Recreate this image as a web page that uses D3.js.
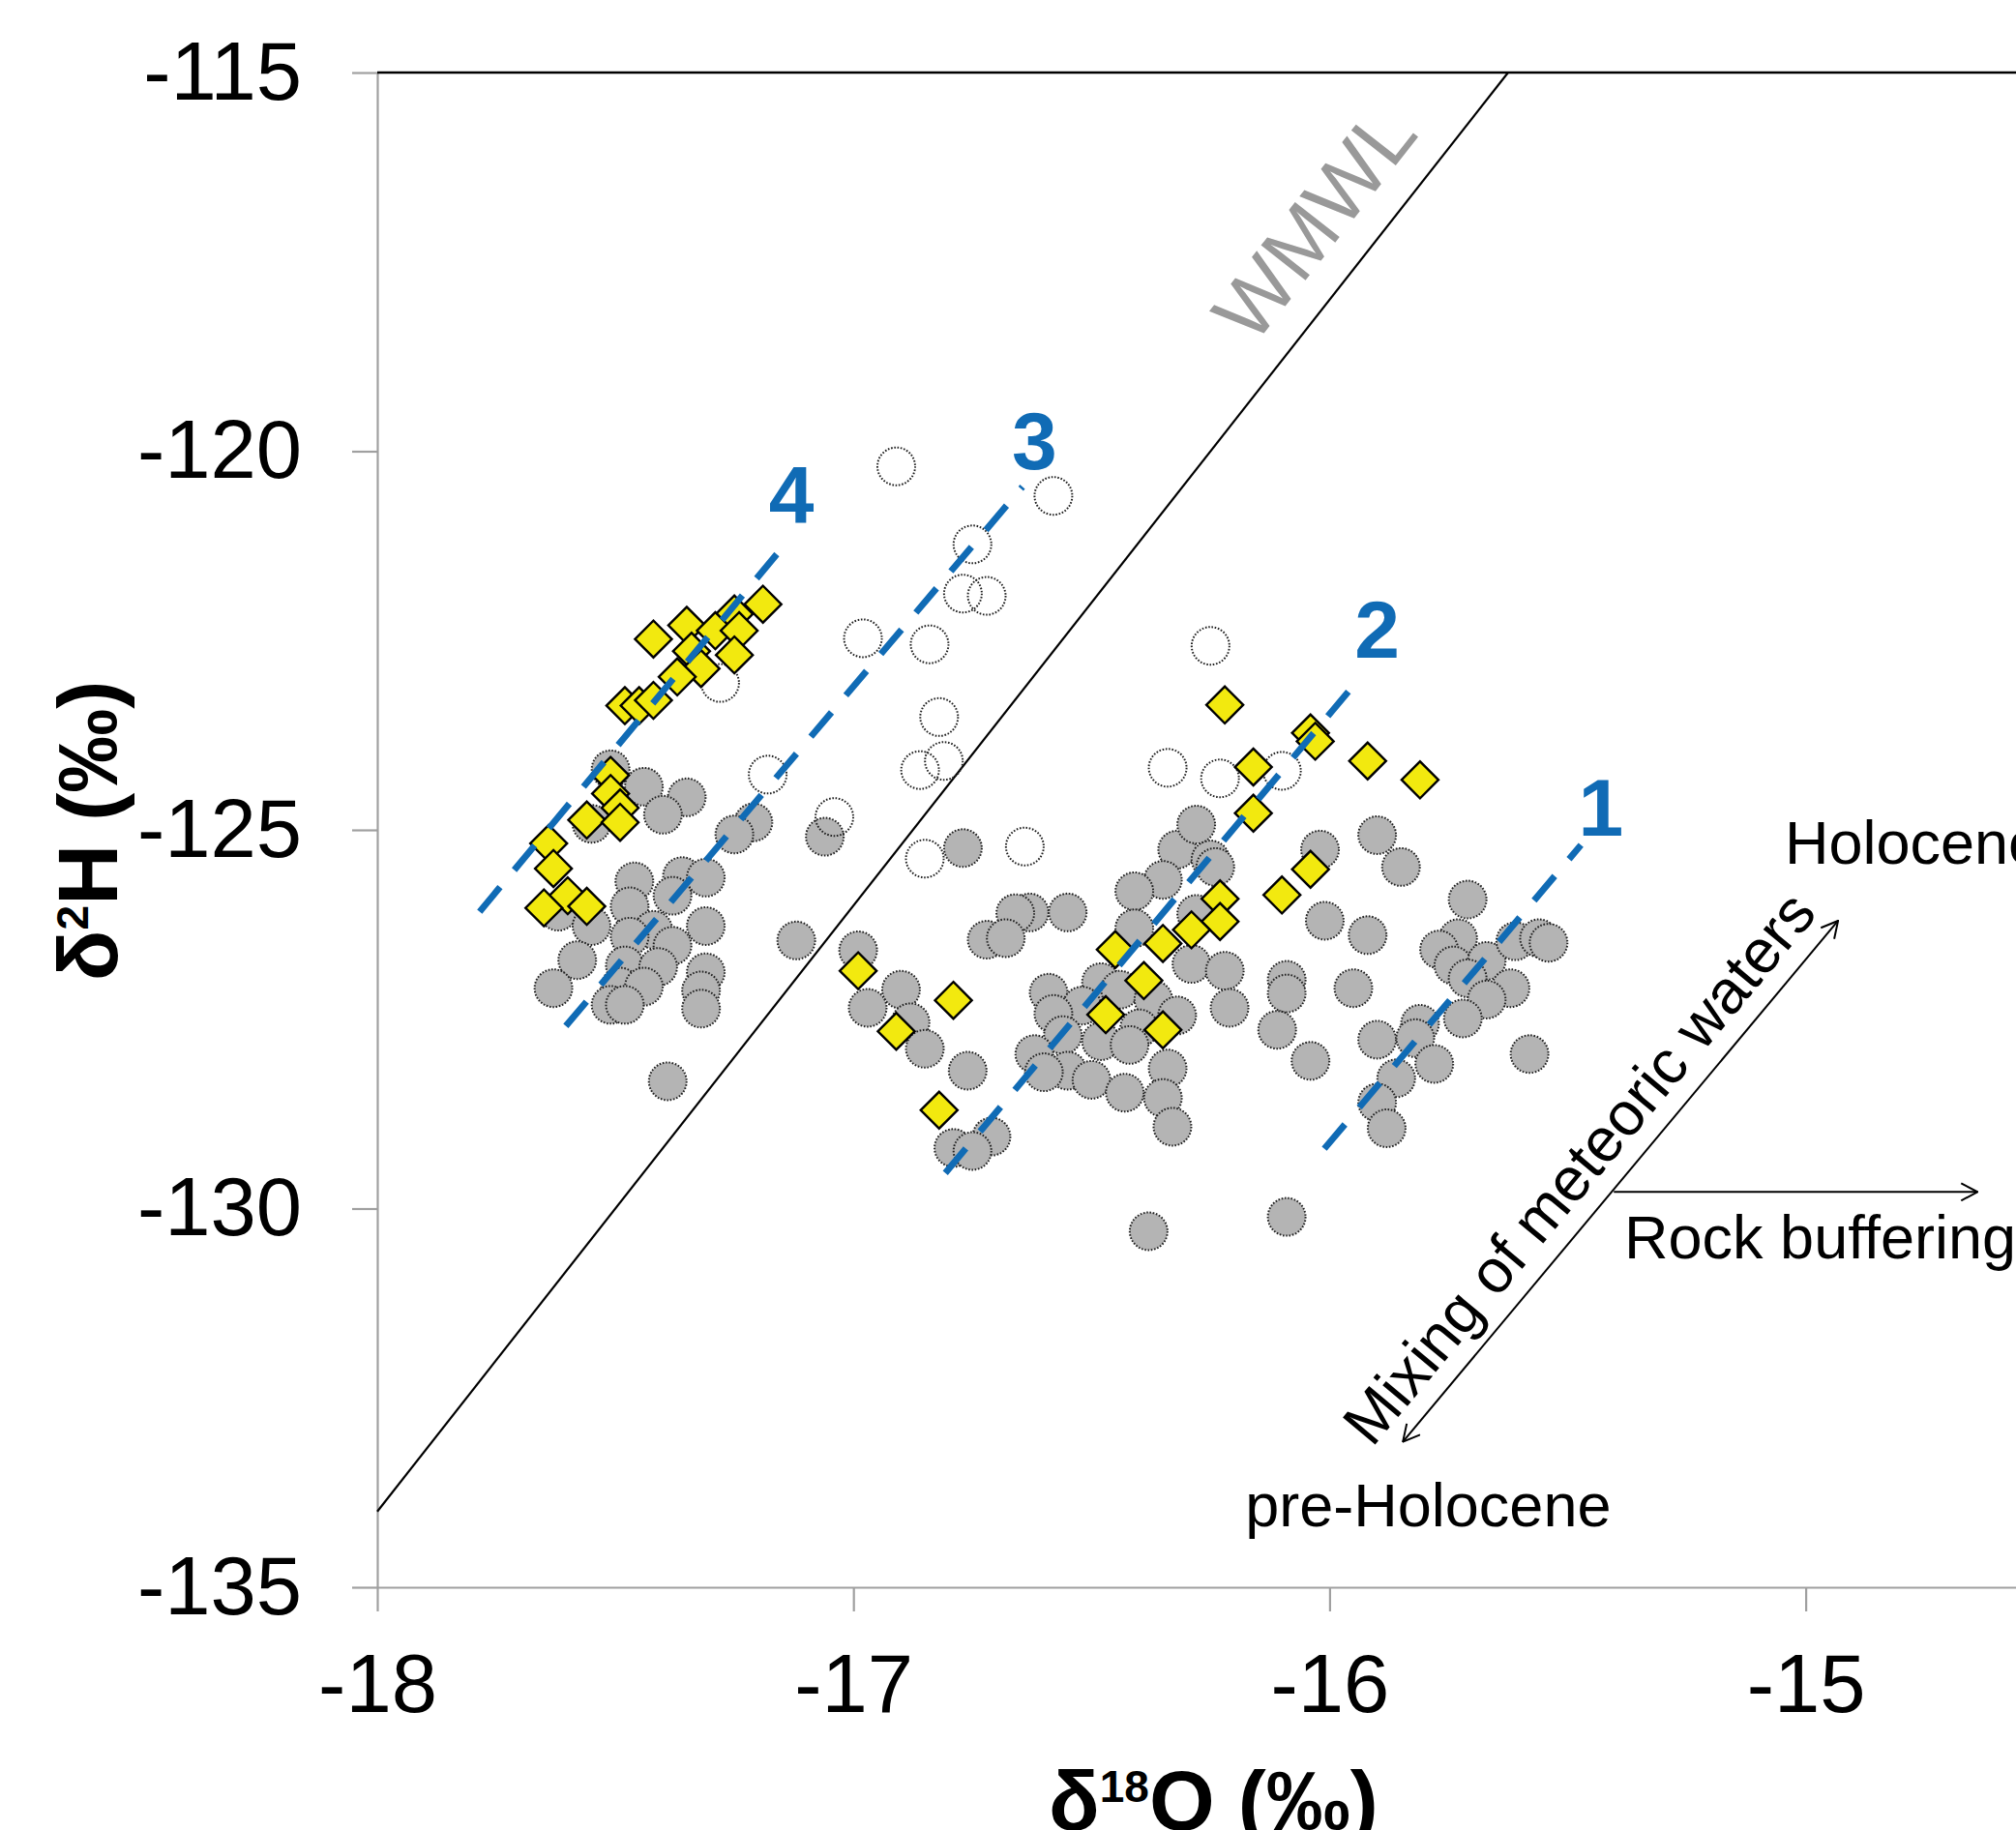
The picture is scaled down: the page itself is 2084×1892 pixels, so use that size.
<!DOCTYPE html>
<html>
<head>
<meta charset="utf-8">
<script src="https://cdn.jsdelivr.net/npm/d3@7"></script>
<style>
  html, body { margin: 0; padding: 0; background: #fff; }
  svg { display: block; font-family: "Liberation Sans", Arial, sans-serif; }
</style>
</head>
<body>
<svg id="chart" width="2084" height="1892"></svg>
<script>
// ticks
const xTicks = [-18, -17, -16, -15];
const yTicks = [-135, -130, -125, -120, -115];

// gray filled circles [d18O, d2H]
const grayPts = [
  [-17.51,-124.20],[-17.44,-124.43],[-17.35,-124.57],[-17.40,-124.80],[-17.55,-124.92],[-17.21,-124.90],
  [-17.25,-125.06],[-17.46,-125.68],[-17.36,-125.61],[-17.31,-125.63],[-17.38,-125.87],[-17.47,-126.01],
  [-17.62,-126.08],[-17.55,-126.27],[-17.42,-126.32],[-17.31,-126.27],[-17.47,-126.41],[-17.38,-126.53],
  [-17.58,-126.72],[-17.48,-126.79],[-17.41,-126.81],[-17.31,-126.88],[-17.63,-127.09],[-17.49,-127.07],
  [-17.44,-127.07],[-17.51,-127.31],[-17.48,-127.31],[-17.32,-127.12],[-17.32,-127.36],[-17.39,-128.32],
  [-17.12,-126.46],
  [-17.06,-125.09],[-16.99,-126.59],[-16.90,-127.11],[-16.97,-127.35],[-16.88,-127.54],[-16.85,-127.89],
  [-16.76,-128.18],[-16.77,-125.24],[-16.63,-126.09],[-16.66,-126.10],[-16.55,-126.09],[-16.72,-126.45],
  [-16.68,-126.43],[-16.32,-125.26],[-16.25,-125.39],[-16.24,-125.49],[-16.35,-125.66],[-16.41,-125.81],
  [-16.28,-126.11],[-16.41,-126.30],[-16.29,-126.77],[-16.22,-126.86],[-16.21,-127.35],[-16.09,-126.98],
  [-16.09,-127.16],[-16.11,-127.64],[-16.59,-127.15],[-16.48,-127.01],[-16.44,-127.11],[-16.52,-127.32],
  [-16.58,-127.43],[-16.37,-127.24],[-16.32,-127.45],[-16.40,-127.62],[-16.48,-127.79],[-16.42,-127.84],
  [-16.56,-127.71],[-16.62,-127.96],[-16.55,-128.18],[-16.50,-128.30],[-16.60,-128.20],[-16.43,-128.47],
  [-16.34,-128.15],[-16.35,-128.54],[-16.33,-128.92],[-16.71,-129.05],[-16.79,-129.20],[-16.75,-129.24],
  [-16.38,-130.30],[-16.09,-130.11],[-16.28,-124.93],
  [-16.02,-125.26],[-15.90,-125.07],[-15.85,-125.49],[-15.71,-125.92],[-16.01,-126.20],[-15.92,-126.39],
  [-15.73,-126.43],[-15.77,-126.58],[-15.74,-126.79],[-15.67,-126.73],[-15.61,-126.47],[-15.56,-126.43],
  [-15.54,-126.49],[-15.71,-126.96],[-15.62,-127.09],[-15.67,-127.24],[-15.95,-127.09],[-16.04,-128.05],
  [-15.72,-127.49],[-15.81,-127.56],[-15.90,-127.77],[-15.82,-127.75],[-15.78,-128.09],[-15.86,-128.28],
  [-15.90,-128.60],[-15.88,-128.94],[-15.58,-127.96]
];

// open circles
const openPts = [
  [-16.91,-120.20],[-16.58,-120.59],[-16.75,-121.23],[-16.77,-121.88],[-16.72,-121.91],[-16.98,-122.47],
  [-16.84,-122.55],[-17.28,-123.06],[-16.82,-123.51],[-16.86,-124.21],[-16.81,-124.09],[-17.18,-124.27],
  [-17.04,-124.83],[-16.85,-125.38],[-16.64,-125.22],[-16.25,-122.57],[-16.34,-124.18],[-16.23,-124.32],
  [-16.10,-124.22]
];

// yellow diamonds
const yellowPts = [
  [-17.19,-122.02],[-17.25,-122.15],[-17.35,-122.30],[-17.29,-122.37],[-17.42,-122.48],[-17.24,-122.37],
  [-17.34,-122.64],[-17.25,-122.69],[-17.32,-122.87],[-17.37,-122.98],[-17.48,-123.36],[-17.45,-123.36],
  [-17.42,-123.29],[-17.51,-124.28],[-17.51,-124.52],[-17.49,-124.71],[-17.56,-124.87],[-17.49,-124.90],
  [-17.64,-125.18],[-17.63,-125.51],[-17.60,-125.87],[-17.65,-126.03],[-17.56,-126.01],
  [-16.22,-123.35],[-16.04,-123.72],[-16.03,-123.83],[-16.16,-124.17],[-15.92,-124.09],[-15.81,-124.34],
  [-16.16,-124.78],[-16.04,-125.52],[-16.10,-125.86],[-16.23,-125.91],[-16.23,-126.21],[-16.29,-126.32],
  [-16.35,-126.50],[-16.45,-126.58],[-16.39,-126.99],[-16.47,-127.44],[-16.35,-127.64],[-16.79,-127.25],
  [-16.99,-126.86],[-16.91,-127.66],[-16.82,-128.70]
];

// dashed trend lines: [x1, y1, x2, y2], label and label position
const trendNames = ["1", "2", "3", "4"];
const trendEnds = [
  [-16.011,-129.21,-15.472,-125.20],
  [-16.807,-129.53,-15.932,-122.96],
  [-17.604,-127.59,-16.645,-120.47],
  [-17.785,-126.08,-17.161,-121.36]
];
const trendLabelPos = [[-15.43,-124.69],[-15.90,-122.34],[-16.62,-119.85],[-17.13,-120.57]];

// meteoric water line: d2H = 8 * d18O + 10
const wmwlSlope = 8, wmwlIntercept = 10;

const blue = "#106bb5";
const svg = d3.select("#chart");

const x = d3.scaleLinear().domain([-18, -14.5]).range([390, 2112.7]);
const y = d3.scaleLinear().domain([-135, -115]).range([1641, 75]);

svg.append("defs").append("marker")
    .attr("id", "open-arrow")
    .attr("viewBox", "0 0 20 20")
    .attr("refX", 19)
    .attr("refY", 10)
    .attr("markerWidth", 20)
    .attr("markerHeight", 20)
    .attr("markerUnits", "userSpaceOnUse")
    .attr("orient", "auto-start-reverse")
    .append("path")
    .attr("d", "M2,1 L19,10 L2,19")
    .attr("fill", "none")
    .attr("stroke", "#000")
    .attr("stroke-width", 2);

// axes
const yAxis = svg.append("g")
    .attr("transform", `translate(${x(-18)},0)`)
    .call(d3.axisLeft(y).tickValues(yTicks).tickSize(26).tickPadding(52).tickSizeOuter(0));

const xAxis = svg.append("g")
    .attr("transform", `translate(0,${y(-135)})`)
    .call(d3.axisBottom(x).tickValues(xTicks).tickSize(25).tickPadding(44).tickSizeOuter(0));

[xAxis, yAxis].forEach(a => {
    a.select(".domain").attr("stroke", "#a0a0a0").attr("stroke-width", 2.2);
    a.selectAll(".tick line").attr("stroke", "#a0a0a0").attr("stroke-width", 2.2);
    a.selectAll(".tick text")
        .attr("font-size", 85)
        .attr("font-family", "Liberation Sans, Arial, sans-serif")
        .attr("fill", "#000")
        .text(d => "-" + Math.abs(d));
});

// top border
svg.append("line")
    .attr("x1", x(-18)).attr("x2", x(-14.5))
    .attr("y1", y(-115)).attr("y2", y(-115))
    .attr("stroke", "#000").attr("stroke-width", 2.4);

// WMWL
const wmwlAt = v => wmwlSlope * v + wmwlIntercept;
const wmwlTop = (-115 - wmwlIntercept) / wmwlSlope;
svg.append("line")
    .attr("x1", x(-18)).attr("y1", y(wmwlAt(-18)))
    .attr("x2", x(wmwlTop)).attr("y2", y(-115))
    .attr("stroke", "#000").attr("stroke-width", 2.2);

const wmwlAngle = Math.atan2(y(-115) - y(wmwlAt(-18)), x(wmwlTop) - x(-18)) * 180 / Math.PI;
svg.append("text")
    .attr("transform", `translate(${x(-15.985)},${y(-117.22)}) rotate(${wmwlAngle})`)
    .attr("text-anchor", "middle")
    .attr("font-size", 85)
    .attr("fill", "#999")
    .text("WMWL");

// points
const dots = svg.append("g");

dots.selectAll(".gray")
    .data(grayPts)
    .enter()
    .append("circle")
    .attr("class", "gray")
    .attr("cx", d => x(d[0]))
    .attr("cy", d => y(d[1]))
    .attr("r", 19.5)
    .attr("fill", "#b4b4b4")
    .attr("stroke", "#222")
    .attr("stroke-width", 2)
    .attr("stroke-dasharray", "1.6,1.7");

dots.selectAll(".open")
    .data(openPts)
    .enter()
    .append("circle")
    .attr("class", "open")
    .attr("cx", d => x(d[0]))
    .attr("cy", d => y(d[1]))
    .attr("r", 19.5)
    .attr("fill", "none")
    .attr("stroke", "#222")
    .attr("stroke-width", 2)
    .attr("stroke-dasharray", "1.6,1.7");

const diamond = d3.symbol().type(d3.symbolSquare).size(724);
dots.selectAll(".yellow")
    .data(yellowPts)
    .enter()
    .append("path")
    .attr("class", "yellow")
    .attr("d", diamond)
    .attr("transform", d => `translate(${x(d[0])},${y(d[1])}) rotate(45)`)
    .attr("fill", "#f2e90f")
    .attr("stroke", "#000")
    .attr("stroke-width", 2.4);

// dashed trend lines
svg.selectAll(".trend")
    .data(trendEnds)
    .enter()
    .append("line")
    .attr("class", "trend")
    .attr("x1", d => x(d[0])).attr("y1", d => y(d[1]))
    .attr("x2", d => x(d[2])).attr("y2", d => y(d[3]))
    .attr("stroke", blue)
    .attr("stroke-width", 6.8)
    .attr("stroke-dasharray", "33,23");

svg.selectAll(".trend-label")
    .data(trendLabelPos)
    .enter()
    .append("text")
    .attr("class", "trend-label")
    .attr("x", d => x(d[0]))
    .attr("y", d => y(d[1]))
    .attr("dy", "0.36em")
    .attr("text-anchor", "middle")
    .attr("font-size", 84)
    .attr("font-weight", "bold")
    .attr("fill", blue)
    .text((d, i) => trendNames[i]);

// process arrows
const mixStart = [-15.846, -133.08], mixEnd = [-14.932, -126.20];
svg.append("line")
    .attr("x1", x(mixStart[0])).attr("y1", y(mixStart[1]))
    .attr("x2", x(mixEnd[0])).attr("y2", y(mixEnd[1]))
    .attr("stroke", "#000").attr("stroke-width", 2)
    .attr("marker-start", "url(#open-arrow)")
    .attr("marker-end", "url(#open-arrow)");

const rockStart = [-15.403, -129.78], rockEnd = [-14.639, -129.78];
svg.append("line")
    .attr("x1", x(rockStart[0])).attr("y1", y(rockStart[1]))
    .attr("x2", x(rockEnd[0])).attr("y2", y(rockEnd[1]))
    .attr("stroke", "#000").attr("stroke-width", 2)
    .attr("marker-end", "url(#open-arrow)");

const mixAngle = Math.atan2(y(mixEnd[1]) - y(mixStart[1]), x(mixEnd[0]) - x(mixStart[0])) * 180 / Math.PI;
svg.append("text")
    .attr("transform", `translate(${x(-15.442)},${y(-129.64)}) rotate(${mixAngle})`)
    .attr("text-anchor", "middle")
    .attr("font-size", 63.5)
    .text("Mixing of meteoric waters");

const notes = [
    ["Holocene", -15.044, -125.45],
    ["pre-Holocene", -16.177, -134.20],
    ["Rock buffering", -15.381, -130.66]
];
svg.selectAll(".note")
    .data(notes)
    .enter()
    .append("text")
    .attr("class", "note")
    .attr("x", d => x(d[1]))
    .attr("y", d => y(d[2]))
    .attr("font-size", 63)
    .text(d => d[0]);

// axis titles
const xTitle = svg.append("text")
    .attr("x", 1084)
    .attr("y", 1892)
    .attr("font-size", 87)
    .attr("font-weight", "bold");
xTitle.append("tspan").text("δ");
xTitle.append("tspan").attr("font-size", 46).attr("dy", -29).text("18");
xTitle.append("tspan").attr("dy", 29).text("O (‰)");

const yTitle = svg.append("text")
    .attr("transform", "translate(121,859) rotate(-90)")
    .attr("text-anchor", "middle")
    .attr("font-size", 87)
    .attr("font-weight", "bold");
yTitle.append("tspan").text("δ");
yTitle.append("tspan").attr("font-size", 46).attr("dy", -30).text("2");
yTitle.append("tspan").attr("dy", 30).text("H (‰)");
</script>
</body>
</html>
